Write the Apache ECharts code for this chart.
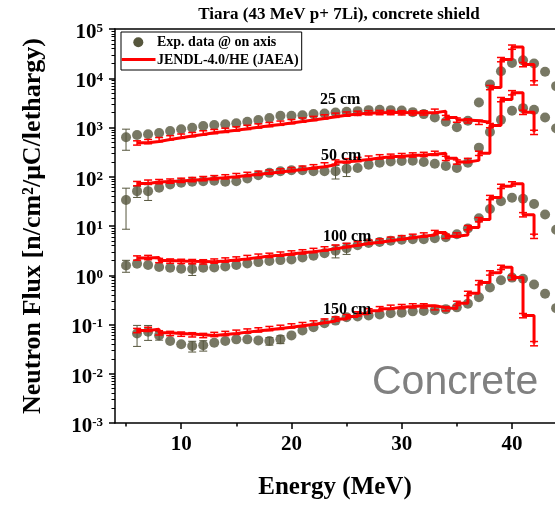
<!DOCTYPE html>
<html>
<head>
<meta charset="utf-8">
<script src="https://cdn.jsdelivr.net/npm/echarts@6/dist/echarts.min.js"></script>
<style>html,body{margin:0;padding:0;background:#fff}#c{width:555px;height:505px}</style>
</head>
<body>
<div id="c"></div>
<script>
// ---------------- data ----------------
const expE = [5,6,7,8,9,10,11,12,13,14,15,16,17,18,19,20,21,22,23,24,25,26,27,28,29,30,31,32,33,34,35,36,37,38,39,40,41,42,43,44];
const exp25 = [635,706,730,775,851,920,991,1072,1122,1159,1216,1309,1420,1560,1730,1730,1780,1870,1930,2020,2080,2150,2250,2280,2250,2220,2050,1870,1600,1310,1010,1370,3210,7500,13900,20500,23100,19900,13500,6930];
const exp50 = [33.6,51,51,59.8,69.7,75.4,78.9,81.1,82.6,78.9,81.1,92,107,120,129,135,135,129,129,130,146,151,176,193,205,209,212,199,184,166,151,193,390,810,1430,2180,2470,2280,1600,964];
const exp100 = [1.58,1.71,1.61,1.47,1.42,1.36,1.34,1.42,1.44,1.51,1.61,1.73,1.85,1.94,2.03,2.09,2.3,2.5,2.8,3.15,3.55,4.07,4.53,4.74,5.04,5.27,5.37,5.39,5.63,5.90,6.81,8.87,14.4,22.2,31.7,37.6,35.9,28.0,17.1,8.39];
const exp150 = [null,0.0659,0.0716,0.0601,0.0461,0.0396,0.0366,0.0378,0.0427,0.0461,0.0499,0.0499,0.0476,0.0461,0.0499,0.0601,0.0757,0.0883,0.106,0.120,0.140,0.145,0.152,0.159,0.169,0.174,0.185,0.188,0.194,0.205,0.223,0.265,0.359,0.562,0.789,0.895,0.847,0.647,0.421,0.215];
// experimental uncertainties (absolute, +/-), 0 = hidden under the marker
const exp25Err = [290,0,0,0,0,0,0,0,0,0,0,0,0,0,0,0,0,0,0,0,0,0,0,0,0,0,0,0,0,0,0,0,0,0,0,0,0,0,0,0];
const exp50Err = [25,13,18,0,0,0,0,0,0,0,0,0,0,0,0,0,0,0,0,40,45,0,0,0,0,0,0,0,0,0,0,0,0,0,0,0,0,0,0,0];
const exp100Err = [0.43,0,0,0,0,0,0.35,0,0,0,0,0,0,0,0,0,0,0,0,0.9,0.9,0,0,0,0,0,0,0,0,0,0,0,0,0,0,0,0,0,0,0];
const exp150Err = [0,0.03,0.024,0.012,0,0,0.009,0.009,0,0,0,0,0,0.008,0.009,0,0,0,0,0,0,0,0,0,0,0,0,0,0,0,0,0,0,0,0,0,0,0,0,0];

const modE = [6,7,8,9,10,11,12,13,14,15,16,17,18,19,20,21,22,23,24,25,26,27,28,29,30,31,32,33,34,35,36,37,38,39,40,41,42];
const mod25 = [488,520,569,620,670,720,780,830,880,940,1010,1080,1150,1230,1320,1420,1530,1650,1780,1880,1950,2000,2020,2020,2000,1990,1990,2150,1600,1420,1370,1280,6500,24000,43000,19000,8100];
const mod50 = [73,78,80,82,85,88,92,96,100,106,112,118,125,132,140,150,160,175,200,212,225,240,255,262,270,278,285,300,237,200,215,300,1100,3700,5100,2040,800];
const mod100 = [2.25,2.3,2.0,1.95,1.92,1.9,1.88,1.95,2.05,2.15,2.3,2.45,2.55,2.7,2.85,3.0,3.2,3.45,3.75,4.05,4.4,4.7,5.0,5.4,5.8,6.2,6.6,7.4,6.2,6.6,9.3,13.5,38,64,72,17,6.2];
const mod150 = [0.0757,0.080,0.068,0.066,0.064,0.062,0.060,0.063,0.066,0.070,0.074,0.078,0.083,0.088,0.094,0.100,0.108,0.118,0.130,0.145,0.165,0.19,0.21,0.225,0.232,0.24,0.24,0.22,0.21,0.27,0.43,0.71,1.12,1.45,0.9,0.152,0.041];
const modRelErr = 0.1;

const xTicks = [10,20,30,40];
const xMinorTicks = [5,15,25,35];
const yExponents = [-3,-2,-1,0,1,2,3,4,5];
const yMinorMult = [2,3,4,5,6,7,8,9];

const titleText = 'Tiara (43 MeV p+ 7Li), concrete shield';
const legendNames = ['Exp. data @ on axis', 'JENDL-4.0/HE (JAEA)'];
const distLabels = ['25 cm', '50 cm', '100 cm', '150 cm'];
const xName = 'Energy (MeV)';
const yName = 'Neutron Flux [n/cm\u00B2/\u03BCC/lethargy)';
const materialText = 'Concrete';

// ---------------- chart ----------------
const FONT = '"Liberation Serif","Times New Roman",serif';
const DOT = '#56563d';
const RED = '#ff0000';

const yMinorTicks = [];
yExponents.slice(0, -1).forEach(e => yMinorMult.forEach(m => yMinorTicks.push(e + Math.log10(m))));

function pairs(xs, ys) {
  const out = [];
  xs.forEach((x, i) => { if (ys[i] != null) out.push([x, ys[i]]); });
  return out;
}
function errorSeries(xs, lo, hi, color, capHalf, width, z) {
  const data = [];
  xs.forEach((x, i) => { if (lo[i] != null && hi[i] != null) data.push([x, lo[i], hi[i]]); });
  return {
    type: 'custom', xAxisIndex: 0, yAxisIndex: 0, z: z, silent: true, clip: false,
    data: data, encode: { x: 0, y: [1, 2] },
    renderItem: function (params, api) {
      const a = api.coord([api.value(0), api.value(1)]);
      const b = api.coord([api.value(0), api.value(2)]);
      const st = { stroke: color, lineWidth: width };
      return { type: 'group', children: [
        { type: 'line', shape: { x1: a[0], y1: a[1], x2: b[0], y2: b[1] }, style: st },
        { type: 'line', shape: { x1: a[0] - capHalf, y1: a[1], x2: a[0] + capHalf, y2: a[1] }, style: st },
        { type: 'line', shape: { x1: b[0] - capHalf, y1: b[1], x2: b[0] + capHalf, y2: b[1] }, style: st }
      ]};
    }
  };
}
function expErr(vals, errs) {
  return {
    lo: vals.map((v, i) => (v != null && errs[i] > 0) ? v - errs[i] : null),
    hi: vals.map((v, i) => (v != null && errs[i] > 0) ? v + errs[i] : null)
  };
}

const series = [];
[[exp25, exp25Err], [exp50, exp50Err], [exp100, exp100Err], [exp150, exp150Err]].forEach(([v, e]) => {
  const r = expErr(v, e);
  series.push(errorSeries(expE, r.lo, r.hi, DOT, 4, 1, 1));
  series.push({
    name: legendNames[0], type: 'scatter', xAxisIndex: 0, yAxisIndex: 0, z: 2, clip: false,
    symbol: 'circle', symbolSize: 10, itemStyle: { color: DOT },
    data: pairs(expE, v)
  });
});
[mod25, mod50, mod100, mod150].forEach(v => {
  series.push({
    name: legendNames[1], type: 'line', step: 'end', xAxisIndex: 0, yAxisIndex: 0, z: 3,
    showSymbol: false, lineStyle: { color: RED, width: 3 }, itemStyle: { color: RED },
    data: pairs(modE, v)
  });
  series.push(errorSeries(modE, v.map(x => x * (1 - modRelErr)), v.map(x => x * (1 + modRelErr)), RED, 4, 1.5, 4));
});

const lineSt = { color: '#000', width: 1.5 };
const xMin = 4, xMax = 43.9;

const option = {
  animation: false,
  backgroundColor: '#fff',
  grid: { left: 115, right: 0, top: 29, bottom: 78.3, containLabel: false },
  xAxis: [
    {
      type: 'value', min: xMin, max: xMax, position: 'bottom',
      axisLine: { show: true, onZero: false, lineStyle: lineSt },
      axisTick: { show: true, customValues: xTicks, length: 6, lineStyle: lineSt },
      axisLabel: { customValues: xTicks, fontSize: 21, fontWeight: 'bold', fontFamily: FONT, color: '#000', margin: 11 },
      splitLine: { show: false },
      name: xName, nameLocation: 'middle', nameGap: 52,
      nameTextStyle: { fontSize: 25, fontWeight: 'bold', fontFamily: FONT, color: '#000' }
    },
    {
      type: 'value', min: xMin, max: xMax, position: 'bottom',
      axisLine: { show: false, onZero: false },
      axisTick: { show: true, customValues: xMinorTicks, length: 3.5, lineStyle: lineSt },
      axisLabel: { show: false }, splitLine: { show: false }
    },
    {
      type: 'value', min: xMin, max: xMax, position: 'top',
      axisLine: { show: true, onZero: false, lineStyle: lineSt },
      axisTick: { show: false }, axisLabel: { show: false }, splitLine: { show: false }
    }
  ],
  yAxis: [
    { type: 'log', logBase: 10, min: 0.001, max: 100000, show: false },
    {
      type: 'value', min: -3, max: 5, interval: 1, position: 'left',
      axisLine: { show: true, onZero: false, lineStyle: lineSt },
      axisTick: { show: true, length: 6, lineStyle: lineSt },
      axisLabel: {
        margin: 12, padding: [7, 0, 0, 0],
        formatter: v => '{b|10}{s|' + v + '}',
        rich: {
          b: { fontSize: 21, fontWeight: 'bold', fontFamily: FONT, color: '#000', lineHeight: 21 },
          s: { fontSize: 13, fontWeight: 'bold', fontFamily: FONT, color: '#000', lineHeight: 7, verticalAlign: 'top' }
        }
      },
      splitLine: { show: false },
      name: yName, nameLocation: 'middle', nameGap: 69, nameRotate: 90,
      nameTextStyle: { fontSize: 26, fontWeight: 'bold', fontFamily: FONT, color: '#000' }
    },
    {
      type: 'value', min: -3, max: 5, position: 'left',
      axisLine: { show: false, onZero: false },
      axisTick: { show: true, customValues: yMinorTicks, length: 3.5, lineStyle: { color: '#000', width: 1 } },
      axisLabel: { show: false }, splitLine: { show: false }
    }
  ],
  series: series,
  graphic: [
    { type: 'text', x: 339, y: 15, z: 10, style: { text: titleText, font: 'bold 17px ' + FONT, fill: '#000', align: 'center', verticalAlign: 'middle' } },
    { type: 'rect', z: 10, shape: { x: 121, y: 32, width: 180.7, height: 38 }, style: { fill: '#fff', stroke: '#000', lineWidth: 1 } },
    { type: 'circle', z: 11, shape: { cx: 138.3, cy: 42.3, r: 5 }, style: { fill: DOT } },
    { type: 'line', z: 11, shape: { x1: 121.7, y1: 59.5, x2: 155.5, y2: 59.5 }, style: { stroke: RED, lineWidth: 3 } },
    { type: 'text', x: 157, y: 42.3, z: 11, style: { text: legendNames[0], font: 'bold 14px ' + FONT, fill: '#000', verticalAlign: 'middle' } },
    { type: 'text', x: 157, y: 60, z: 11, style: { text: legendNames[1], font: 'bold 14px ' + FONT, fill: '#000', verticalAlign: 'middle' } },
    { type: 'text', x: 320, y: 100, z: 10, style: { text: distLabels[0], font: 'bold 16px ' + FONT, fill: '#000', verticalAlign: 'middle' } },
    { type: 'text', x: 321, y: 155.5, z: 10, style: { text: distLabels[1], font: 'bold 16px ' + FONT, fill: '#000', verticalAlign: 'middle' } },
    { type: 'text', x: 323, y: 236.7, z: 10, style: { text: distLabels[2], font: 'bold 16px ' + FONT, fill: '#000', verticalAlign: 'middle' } },
    { type: 'text', x: 323, y: 310, z: 10, style: { text: distLabels[3], font: 'bold 16px ' + FONT, fill: '#000', verticalAlign: 'middle' } },
    { type: 'text', x: 372, y: 383, z: 10, style: { text: materialText, font: '41px "Liberation Sans", Arial, sans-serif', fill: '#808080', verticalAlign: 'middle' } }
  ]
};

const chart = echarts.init(document.getElementById('c'), null, { renderer: 'canvas' });
chart.setOption(option);
</script>
</body>
</html>
